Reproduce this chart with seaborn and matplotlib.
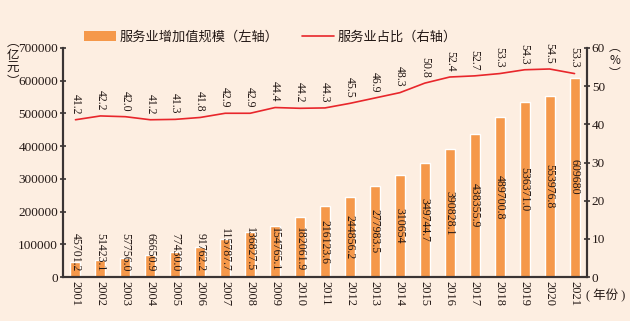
import numpy as np
import pandas as pd
import matplotlib
matplotlib.use("Agg")
import matplotlib.pyplot as plt
import seaborn as sns
from matplotlib.patches import Patch
from matplotlib.lines import Line2D

years = [str(y) for y in range(2001, 2022)]
value_added = [45701.2, 51423.1, 57756.0, 66650.9, 77430.0, 91762.2, 115787.7,
               136827.5, 154765.1, 182061.9, 216123.6, 244856.2, 277983.5,
               310654, 349744.7, 390828.1, 438355.9, 489700.8, 536371.0,
               553976.8, 609680]
value_labels = ["45701.2", "51423.1", "57756.0", "66650.9", "77430.0", "91762.2",
                "115787.7", "136827.5", "154765.1", "182061.9", "216123.6",
                "244856.2", "277983.5", "310654", "349744.7", "390828.1",
                "438355.9", "489700.8", "536371.0", "553976.8", "609680"]
share = [41.2, 42.2, 42.0, 41.2, 41.3, 41.8, 42.9, 42.9, 44.4, 44.2, 44.3,
         45.5, 46.9, 48.3, 50.8, 52.4, 52.7, 53.3, 54.3, 54.5, 53.3]
share_labels = [f"{v:.1f}" for v in share]
left_ticks = [0, 100000, 200000, 300000, 400000, 500000, 600000, 700000]
right_ticks = [0, 10, 20, 30, 40, 50, 60]

legend_bar = "服务业增加值规模（左轴）"
legend_line = "服务业占比（右轴）"

BG = "#FDEEE1"
ORANGE = "#F5984A"
RED = "#E8262B"
DARK = "#3A3434"
TXT = "#231815"

sns.set_theme(style="white")
plt.rcParams['font.family'] = ['Liberation Serif', 'Noto Sans CJK SC', 'DejaVu Sans']
plt.rcParams['text.color'] = TXT
plt.rcParams['axes.labelcolor'] = TXT
plt.rcParams['xtick.color'] = TXT
plt.rcParams['ytick.color'] = TXT

df = pd.DataFrame({"year": years, "value": value_added, "share": share,
                   "pos": np.arange(len(years))})

fig = plt.figure(figsize=(6.3, 3.21), dpi=100, facecolor=BG)
ax = fig.add_axes([63/630, 1-277/321, (587-63)/630, (277-48)/321])
ax.set_facecolor(BG)
sns.barplot(data=df, x="year", y="value", color=ORANGE, width=0.4,
            saturation=1, ax=ax)
ax.set_ylim(0, 700000)
ax.set_xlim(-0.5, len(years) - 0.5)
ax.set_yticks(left_ticks)
ax.set_yticklabels([str(t) for t in left_ticks], fontsize=9.5)
ax.set_xlabel("")
ax.set_ylabel("")
ax.tick_params(axis='x', which='major', length=0, labelsize=9, rotation=270, pad=3)
ax.set_xticks(np.arange(len(years)) + 0.5, minor=True)
ax.tick_params(axis='x', which='minor', direction='in', length=4, width=1.2, color=DARK)
ax.tick_params(axis='y', direction='inout', length=5, width=1.2, color=DARK, pad=1)
for lab in ax.get_xticklabels():
    lab.set_va('top')

ax2 = ax.twinx()
sns.lineplot(data=df, x="pos", y="share", color=RED, linewidth=1.2, ax=ax2)
ax2.set_ylim(0, 60)
ax2.set_xlim(-0.5, len(years) - 0.5)
ax2.set_yticks(right_ticks)
ax2.set_yticklabels([str(t) for t in right_ticks], fontsize=9.5)
ax2.set_ylabel("")
ax2.tick_params(axis='y', direction='inout', length=5, width=1.2, color=DARK, pad=1)

for a in (ax, ax2):
    a.spines['top'].set_visible(False)
    for s in ['left', 'right', 'bottom']:
        a.spines[s].set_color(DARK)
        a.spines[s].set_linewidth(1.5)

# bar value labels
for i, (v, t) in enumerate(zip(value_added, value_labels)):
    if v >= 183000:
        ax.text(i, v / 2, t, rotation=270, ha='center', va='center', fontsize=8.5)
    else:
        ax.annotate(t, (i, 0), xytext=(0, 4), textcoords='offset points',
                    rotation=270, ha='center', va='bottom', fontsize=8.5)

# line labels
for i, (v, t) in enumerate(zip(share, share_labels)):
    ax2.annotate(t, (i, v), xytext=(0, 4), textcoords='offset points',
                 rotation=270, ha='center', va='bottom', fontsize=8.5)

# axis unit labels
fig.text(13/630, 1-62/321, "︵\n亿\n元\n︶", ha='center', va='center',
         fontsize=9, family=['Noto Sans CJK SC'], linespacing=1.0)
fig.text(615/630, 1-60/321, "︵\n%\n︶", ha='center', va='center',
         fontsize=8.5, family=['Noto Sans CJK SC'], linespacing=1.0)
fig.text(586/630, 1-296/321, "( 年份 )", ha='left', va='center', fontsize=9)

handles = [Patch(facecolor=ORANGE, edgecolor='none'),
           Line2D([0], [0], color=RED, linewidth=1.2)]
fig.legend(handles, [legend_bar, legend_line], loc='center left',
           bbox_to_anchor=(84/630, 1-37/321), ncol=2, frameon=False,
           fontsize=9.5, handlelength=2.4, handleheight=0.75,
           handletextpad=0.3, columnspacing=1.8, borderpad=0, borderaxespad=0)

fig.savefig("out.png", dpi=100, facecolor=BG)
